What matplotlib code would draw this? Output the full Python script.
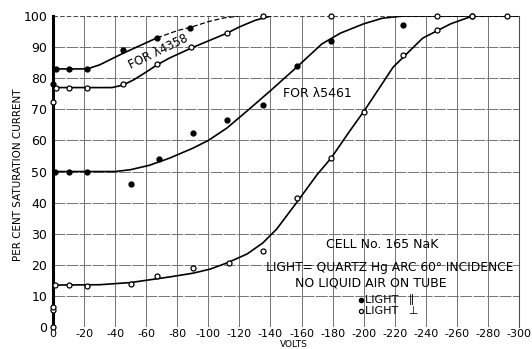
import numpy as np
import matplotlib.pyplot as plt

plt.rcParams['font.family'] = ['DejaVu Sans']

# values (volts are negative, plotted leftwards from 0)
x_ticks = [0, -20, -40, -60, -80, -100, -120, -140, -160, -180, -200, -220, -240, -260, -280, -300]
y_ticks = [0, 10, 20, 30, 40, 50, 60, 70, 80, 90, 100]

# lambda 4358, light parallel (filled)
v_4358_par = [0, -2, -10, -22, -45, -67, -88]
p_4358_par = [78, 83, 83, 83, 89, 93, 96]
# lambda 4358, light perpendicular (open)
v_4358_perp = [0, -2, -10, -22, -45, -67, -89, -112, -135, -179, -247, -270, -292]
p_4358_perp = [72.3, 77, 77, 77, 78, 84.5, 90, 94.5, 100, 100, 100, 100, 100]
# lambda 5461, light parallel (filled)
v_5461_par = [-1.5, -10, -22, -50, -68, -90, -112, -135, -157, -179, -225]
p_5461_par = [50, 50, 50, 46, 54, 62.5, 66.5, 71.5, 84, 92, 97]
# lambda 5461, light perpendicular (open)
v_5461_perp = [0, 0, 0, -1.5, -10, -22, -50, -67, -90, -113, -135, -157, -179, -200, -225, -247, -270]
p_5461_perp = [0, 5.5, 6.5, 13.5, 13.5, 13.3, 13.8, 16.5, 19, 20.6, 24.5, 41.5, 54.5, 69, 87.5, 95.5, 100]

# hand drawn curves through the points
c_4358_par_v = [0, 0, -1, -3, -22, -30, -45, -67, -80, -90, -100, -110, -120]
c_4358_par_p = [0, 81, 82.6, 83, 83, 84.3, 88, 93, 95.3, 96.6, 98.2, 99.4, 100]
c_4358_perp_v = [0, 0, -1, -3, -38, -45, -52, -60, -67, -75, -89, -100, -112, -120, -130, -140]
c_4358_perp_p = [0, 75, 76.5, 77, 77, 77.8, 79.5, 82, 84.3, 86.5, 89.7, 92, 94.5, 96.5, 98.6, 100]
c_5461_par_v = [0, 0, -1, -3, -40, -50, -62, -75, -90, -100, -112, -125, -140, -157, -173, -185, -200, -212, -225, -300]
c_5461_par_p = [0, 48, 49.5, 50, 50, 50.6, 52, 54.3, 57.5, 60, 64, 69.5, 76, 83.6, 91, 94.5, 97.5, 99.3, 100, 100]
c_5461_perp_v = [0, 0, -1, -3, -30, -50, -75, -90, -101, -112, -125, -135, -144, -158, -170, -179, -191, -201, -219, -238, -256, -270]
c_5461_perp_p = [0, 12, 13.2, 13.5, 13.6, 14.3, 16.1, 17.3, 18.6, 20.6, 23.5, 27, 31.5, 40.8, 49, 54.3, 63, 70, 83.6, 92.9, 97.5, 100]

fig = plt.figure(figsize=(5.32, 3.49), dpi=100)
ax = fig.add_axes([0.0996, 0.063, 0.876, 0.891])

for xv in x_ticks[1:]:
    ax.axvline(xv, color='0.45', lw=0.7, zorder=1)
for yv in y_ticks[1:-1]:
    ax.axhline(yv, color='0.45', lw=0.7, ls=(0, (12, 1.5)), zorder=1)
ax.axhline(100, color='0.3', lw=0.8, ls=(0, (4, 2)), zorder=1)

ax.plot(c_4358_par_v[:8], c_4358_par_p[:8], color='k', lw=1.2, zorder=3)
ax.plot(c_4358_par_v[7:], c_4358_par_p[7:], color='k', lw=0.9, ls=(0, (4, 2)), zorder=3)
ax.plot(c_4358_perp_v, c_4358_perp_p, color='k', lw=1.2, zorder=3)
ax.plot(c_5461_par_v, c_5461_par_p, color='k', lw=1.2, zorder=3)
ax.plot(c_5461_perp_v, c_5461_perp_p, color='k', lw=1.2, zorder=3)

filled = dict(ls='none', marker='o', ms=3.5, mfc='k', mec='k', zorder=4, clip_on=False)
hollow = dict(ls='none', marker='o', ms=3.6, mfc='white', mec='k', mew=0.9, zorder=4, clip_on=False)
ax.plot(v_4358_par, p_4358_par, **filled)
ax.plot(v_5461_par, p_5461_par, **filled)
ax.plot(v_4358_perp, p_4358_perp, **hollow)
ax.plot(v_5461_perp, p_5461_perp, **hollow)

ax.set_xlim(0, -300)
ax.set_ylim(0, 100)
ax.set_xticks(x_ticks)
ax.set_xticklabels([str(v) for v in x_ticks], fontsize=8)
ax.set_yticks(y_ticks)
ax.set_yticklabels([str(v) for v in y_ticks], fontsize=9)
ax.tick_params(length=0, pad=4)
ax.tick_params(axis='x', pad=1.5)

for s in ['top', 'bottom']:
    ax.spines[s].set_visible(False)
ax.spines['left'].set_linewidth(2.2)
ax.spines['right'].set_color('0.3')
ax.spines['right'].set_linewidth(0.8)

fig.text(18 / 532, 1 - 175 / 349, 'PER CENT SATURATION CURRENT', rotation=90,
         fontsize=7.5, ha='center', va='center')
fig.text(294 / 532, 0.0, 'VOLTS', fontsize=6.5, ha='center', va='bottom')

ax.text(-68, 88.4, 'FOR λ4358', rotation=26, fontsize=8.5, ha='center', va='center')
ax.text(-148, 75, 'FOR λ5461', fontsize=9, ha='left', va='center')
ax.text(-176, 26.5, 'CELL No. 165 NaK', fontsize=9, ha='left', va='center')
ax.text(-137, 19.2, 'LIGHT= QUARTZ Hg ARC 60° INCIDENCE', fontsize=8.8, ha='left', va='center')
ax.text(-156, 14.2, 'NO LIQUID AIR ON TUBE', fontsize=9, ha='left', va='center')
ax.plot([-198], [8.7], **dict(filled, ms=3))
ax.plot([-198], [5.1], **dict(hollow, ms=3))
ax.text(-201, 8.7, 'LIGHT   ∥', fontsize=8, ha='left', va='center')
ax.text(-201, 5.1, 'LIGHT   ⊥', fontsize=8, ha='left', va='center')

fig.savefig('out.png', dpi=100)
